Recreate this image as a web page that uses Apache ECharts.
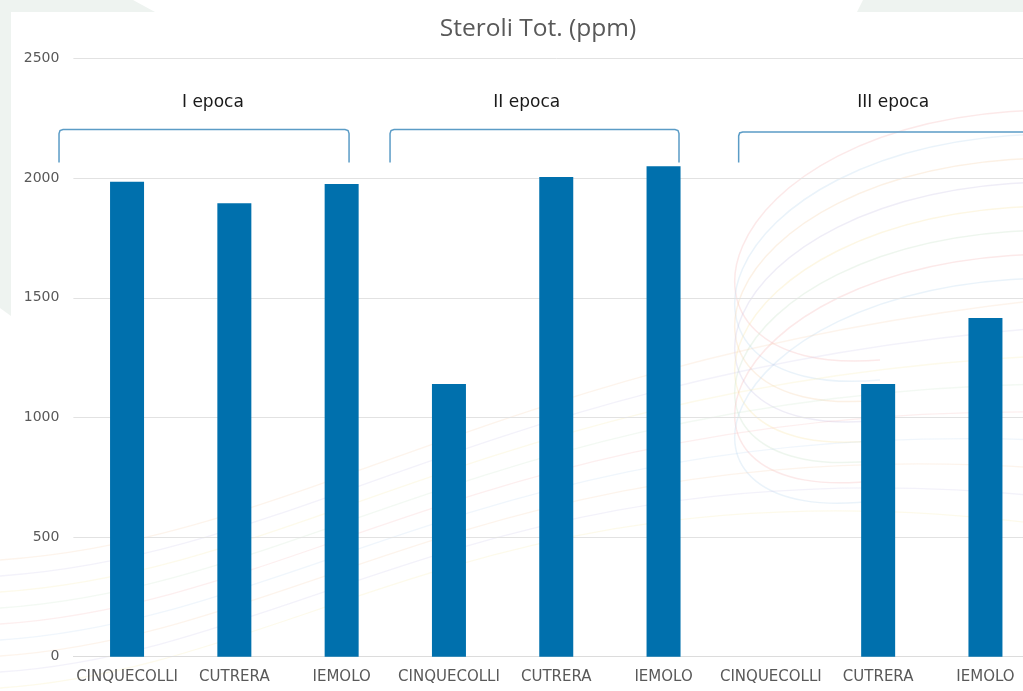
<!DOCTYPE html>
<html>
<head>
<meta charset="utf-8">
<script src="https://cdn.jsdelivr.net/npm/echarts@6/dist/echarts.min.js"></script>
<style>
  html, body { margin: 0; padding: 0; background: #ffffff; overflow: hidden; }
  /* canvas is a bit wider than the page so the last bar group runs to the edge */
  #chart { width: 1040px; height: 691px; }
</style>
</head>
<body>
<div id="chart"></div>
<script>
// Cultivars repeated for each sampling period
const categories = ['CINQUECOLLI', 'CUTRERA', 'IEMOLO', 'CINQUECOLLI', 'CUTRERA', 'IEMOLO', 'CINQUECOLLI', 'CUTRERA', 'IEMOLO'];
// Total sterols (ppm); no value for the third CINQUECOLLI sample
const sterolValues = [1985, 1895, 1975, 1140, 2005, 2050, null, 1140, 1415];
// Y axis range
const yTicks = [0, 500, 1000, 1500, 2000, 2500];
// Sampling periods: label and span in category-index units
const epochNames = ['I epoca', 'II epoca', 'III epoca'];
const epochStart = [-0.634, 2.451, 5.70];
const epochEnd = [2.069, 5.144, 8.80];
const epochLabelAt = [0.80, 3.725, 7.14];

const chart = echarts.init(document.getElementById('chart'), null, { renderer: 'canvas' });

const labelFont = '"DejaVu Sans", Verdana, sans-serif';

// faint decorative swirls in the background
const swirlColors = ['#f4b6b6', '#b9d7f0', '#f6cfa8', '#c9c2e6', '#f7e6a6', '#c8e2c8'];
function swirls() {
  const out = [];
  // hairpin curves on the right
  for (let k = 0; k < 8; k++) {
    const c = swirlColors[k % swirlColors.length];
    const yTop = 110 + k * 24;
    const yTurn = 290 + k * 22;
    const yEnd = 300 + k * 20;
    out.push({
      type: 'bezierCurve', silent: true, z: -5,
      shape: { x1: 1040, y1: yTop, cpx1: 700, cpy1: yTop + 10, cpx2: 640, cpy2: yTurn + 90, x2: 880, y2: yEnd + 60 },
      style: { stroke: c, lineWidth: 1.5, fill: null, opacity: 0.3 }
    });
  }
  // long rising curves across the lower part
  for (let k = 0; k < 9; k++) {
    const c = swirlColors[(k + 2) % swirlColors.length];
    const y0 = 560 + k * 16;
    out.push({
      type: 'bezierCurve', silent: true, z: -5,
      shape: { x1: 0, y1: y0, cpx1: 300, cpy1: y0 - 20, cpx2: 500, cpy2: 360 + k * 12, x2: 1040, y2: 300 + k * 28 },
      style: { stroke: c, lineWidth: 1.3, fill: null, opacity: 0.22 }
    });
  }
  return out;
}

const baseGraphics = [
  { type: 'polygon', silent: true, z: -10,
    shape: { points: [[0, 0], [133, 0], [155, 12], [11, 12], [11, 316], [0, 308]] },
    style: { fill: '#eef3f0' } },
  { type: 'polygon', silent: true, z: -10,
    shape: { points: [[863, 0], [1040, 0], [1040, 12], [857, 12]] },
    style: { fill: '#eef3f0' } }
].concat(swirls());

chart.setOption({
  animation: false,
  backgroundColor: '#ffffff',
  title: {
    text: 'Steroli Tot. (ppm)',
    left: 533, top: 12, textAlign: 'center',
    textStyle: { fontFamily: '"Open Sans", sans-serif', fontSize: 24.5, fontWeight: 'normal', color: '#595959' }
  },
  grid: { left: 73.4, right: 0.9, top: 58.5, bottom: 34.3, containLabel: false },
  xAxis: {
    type: 'category',
    data: categories,
    axisLine: { show: true, lineStyle: { color: '#dcdcdc' } },
    axisTick: { show: false },
    axisLabel: { interval: 0, margin: 13, color: '#595959', fontFamily: labelFont, fontSize: 15 }
  },
  yAxis: {
    type: 'value',
    min: yTicks[0], max: yTicks[yTicks.length - 1], interval: yTicks[1] - yTicks[0],
    axisLine: { show: false },
    axisTick: { show: false },
    axisLabel: { margin: 14, color: '#595959', fontFamily: labelFont, fontSize: 14, formatter: (v) => String(v) },
    splitLine: { lineStyle: { color: '#e2e2e2', width: 1 } }
  },
  series: [{
    type: 'bar',
    data: sterolValues,
    barWidth: 34,
    itemStyle: { color: '#0070ad' }
  }],
  graphic: baseGraphics
});

// Period brackets placed through the axes
function addEpochs() {
  const c0 = chart.convertToPixel({ xAxisIndex: 0 }, 0);
  const c1 = chart.convertToPixel({ xAxisIndex: 0 }, 1);
  const step = c1 - c0;
  const xAt = (f) => c0 + f * step;
  const yAt = (v) => chart.convertToPixel({ yAxisIndex: 0 }, v);
  const blue = '#5b9cc6';
  const items = [];
  epochNames.forEach((name, i) => {
    const xl = xAt(epochStart[i]);
    const xr = xAt(epochEnd[i]);
    const yt = yAt(i === 2 ? 2193 : 2203);
    const yb = yAt(2065);
    const r = 4;
    items.push({
      type: 'polyline', silent: true, z: 5,
      shape: {
        points: [[xl, yb], [xl, yt + r], [xl + 1, yt + 1], [xl + r, yt],
                 [xr - r, yt], [xr - 1, yt + 1], [xr, yt + r], [xr, yb]],
        smooth: 0
      },
      style: { stroke: blue, lineWidth: 1.5, fill: null }
    });
    items.push({
      type: 'text', silent: true, z: 5,
      x: xAt(epochLabelAt[i]), y: yAt(2315),
      style: {
        text: name, fill: '#1a1a1a', font: '17px ' + labelFont,
        align: 'center', verticalAlign: 'middle'
      }
    });
  });
  chart.setOption({ graphic: baseGraphics.concat(items) });
}
addEpochs();
</script>
</body>
</html>
